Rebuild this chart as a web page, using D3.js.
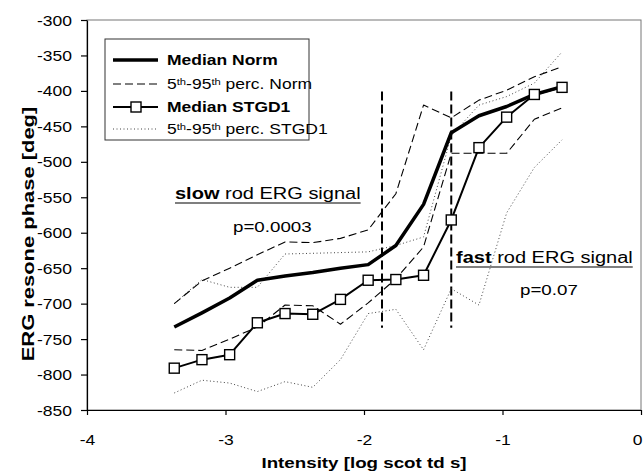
<!DOCTYPE html>
<html>
<head>
<meta charset="utf-8">
<script src="https://cdn.jsdelivr.net/npm/d3@7"></script>
<style>
  body { margin: 0; background: #fff; }
  svg { font-family: "Liberation Sans", Arial, sans-serif; }
</style>
</head>
<body>
<svg></svg>
<script>
const width = 644;
const height = 471;

// intensity (log scot td s)
const intensity = [-3.37, -3.17, -2.97, -2.77, -2.57, -2.37, -2.17, -1.97, -1.77, -1.57, -1.37, -1.17, -0.97, -0.77, -0.57];
const medianNorm = [-733, -713, -692, -667, -661, -656, -650, -645, -618, -560, -459, -435, -422, -405, -394];
const p95Norm = [-700, -668, -650, -631, -613, -614, -608, -596, -545, -420, -438, -413, -399, -380, -366];
const p5Norm = [-765, -766, -750, -733, -702, -703, -729, -699, -665, -620, -488, -488, -488, -440, -424];
const medianStgd = [-791, -779, -772, -727, -714, -715, -694, -667, -666, -660, -582, -480, -437, -405, -395];
const p95Stgd = [-700, -666, -677, -677, -630, -629, -628, -627, -618, -606, -463, -420, -408, -389, -345];
const p5Stgd = [-826, -808, -812, -824, -810, -818, -779, -714, -708, -765, -679, -702, -572, -508, -469];

const xTicks = [-4, -3, -2, -1, 0];
const yTicks = [-850, -800, -750, -700, -650, -600, -550, -500, -450, -400, -350, -300];
const cutoffs = [-1.87, -1.37];
const cutoffRange = [-734, -401];

const sx = 1.25; // the scan is wider than it is tall

const svg = d3.select("svg").attr("width", width).attr("height", height);

const x = d3.scaleLinear().domain([-4, 0]).range([87, 641]);
const y = d3.scaleLinear().domain([-850, -300]).range([410, 20]);

// frame
svg.append("rect")
  .attr("x", x(-4)).attr("y", y(-300))
  .attr("width", x(0) - x(-4)).attr("height", y(-850) - y(-300))
  .attr("fill", "none").attr("stroke", "#777").attr("stroke-width", 1);

const yAxis = svg.append("g")
  .attr("transform", `translate(${x(-4)},0)`)
  .call(d3.axisLeft(y).tickValues(yTicks).tickSize(6).tickSizeOuter(0).tickFormat(d => String(d)));
yAxis.selectAll("text")
  .attr("x", null).attr("dy", null)
  .attr("transform", `translate(-15,5) scale(${sx},1)`)
  .style("font-size", "14px").attr("fill", "#000");

const xAxis = svg.append("g")
  .attr("transform", `translate(0,${y(-850)})`)
  .call(d3.axisBottom(x).tickValues(xTicks).tickSize(5).tickSizeOuter(0).tickFormat(d => String(d)));
xAxis.selectAll("text")
  .attr("y", null).attr("dy", null)
  .attr("transform", d => `translate(${d === 0 ? -4 : 0},35) scale(${sx},1)`)
  .style("font-size", "14px").attr("fill", "#000");
svg.selectAll(".domain, .tick line").attr("stroke", "#000").attr("stroke-width", 1.2);

// titles
svg.append("text")
  .attr("transform", `translate(${(x(-4) + x(0)) / 2},468) scale(${sx},1)`)
  .attr("text-anchor", "middle").attr("font-weight", "bold").style("font-size", "15px")
  .text("Intensity [log scot td s]");
svg.append("text")
  .attr("transform", `translate(34,234) rotate(-90) scale(1.29,1)`)
  .attr("text-anchor", "middle").attr("font-weight", "bold").style("font-size", "17px")
  .text("ERG resone phase [deg]");

// cutoff lines
svg.selectAll(".cut").data(cutoffs).enter().append("line")
  .attr("x1", d => x(d)).attr("x2", d => x(d))
  .attr("y1", y(cutoffRange[1])).attr("y2", y(cutoffRange[0]))
  .attr("stroke", "#000").attr("stroke-width", 2).attr("stroke-dasharray", "9,4");

const line = vals => d3.line().x((d, i) => x(intensity[i])).y(d => y(d))(vals);

const series = [
  { v: p5Stgd, w: 1, dash: "1,2.5", c: "#444" },
  { v: p95Stgd, w: 1, dash: "1,2.5", c: "#444" },
  { v: p5Norm, w: 1.1, dash: "8,4", c: "#000" },
  { v: p95Norm, w: 1.1, dash: "8,4", c: "#000" },
  { v: medianNorm, w: 3.5, dash: null, c: "#000" },
  { v: medianStgd, w: 2, dash: null, c: "#000" },
];
svg.selectAll(".series").data(series).enter().append("path")
  .attr("d", d => line(d.v))
  .attr("fill", "none").attr("stroke", d => d.c)
  .attr("stroke-width", d => d.w).attr("stroke-dasharray", d => d.dash)
  .attr("stroke-linejoin", "round");

svg.selectAll(".sq").data(medianStgd).enter().append("rect")
  .attr("x", (d, i) => x(intensity[i]) - 5).attr("y", d => y(d) - 5)
  .attr("width", 10).attr("height", 10)
  .attr("fill", "#fff").attr("stroke", "#000").attr("stroke-width", 1.4);

// annotations
function label(tx, ty, bold, rest, size, under) {
  const t = svg.append("text")
    .attr("transform", `translate(${tx},${ty}) scale(${sx},1)`)
    .style("font-size", size + "px");
  if (bold) t.append("tspan").attr("font-weight", "bold").text(bold);
  t.append("tspan").text(rest);
  if (under) {
    const w = t.node().getBBox().width * sx;
    svg.append("line").attr("x1", tx).attr("x2", tx + w)
      .attr("y1", ty + 4).attr("y2", ty + 4)
      .attr("stroke", "#000").attr("stroke-width", 1.2);
  }
  return t;
}
label(175, 199, "slow", " rod ERG signal", 16, true);
label(233, 232, null, "p=0.0003", 15, false);
label(456, 263, "fast", " rod ERG signal", 16, true);
label(520, 295, null, "p=0.07", 15, false);

// legend
const legend = svg.append("g");
legend.append("rect").attr("x", 105).attr("y", 39).attr("width", 204).attr("height", 101)
  .attr("fill", "#fff").attr("stroke", "#333").attr("stroke-width", 1);
const legendRows = [series[4], series[2], series[5], series[0]];
const legendY = [60, 84, 107, 129];
legendRows.forEach((s, i) => {
  legend.append("line").attr("x1", 113).attr("x2", 158)
    .attr("y1", legendY[i]).attr("y2", legendY[i])
    .attr("stroke", s.c).attr("stroke-width", s.w).attr("stroke-dasharray", s.dash);
});
legend.append("rect").attr("x", 131).attr("y", legendY[2] - 5).attr("width", 10).attr("height", 10)
  .attr("fill", "#fff").attr("stroke", "#000").attr("stroke-width", 1.4);

function legText(i, parts, bold) {
  const t = legend.append("text")
    .attr("transform", `translate(167,${legendY[i] + 5}) scale(${sx},1)`)
    .style("font-size", "14px").attr("font-weight", bold ? "bold" : null);
  parts.forEach(p => {
    const s = t.append("tspan").text(p.t);
    if (p.sup) s.attr("baseline-shift", "super").style("font-size", "9px");
  });
}
legText(0, [{ t: "Median Norm" }], true);
legText(1, [{ t: "5" }, { t: "th", sup: true }, { t: "-95" }, { t: "th", sup: true }, { t: " perc. Norm" }], false);
legText(2, [{ t: "Median STGD1" }], true);
legText(3, [{ t: "5" }, { t: "th", sup: true }, { t: "-95" }, { t: "th", sup: true }, { t: " perc. STGD1" }], false);
</script>
</body>
</html>
